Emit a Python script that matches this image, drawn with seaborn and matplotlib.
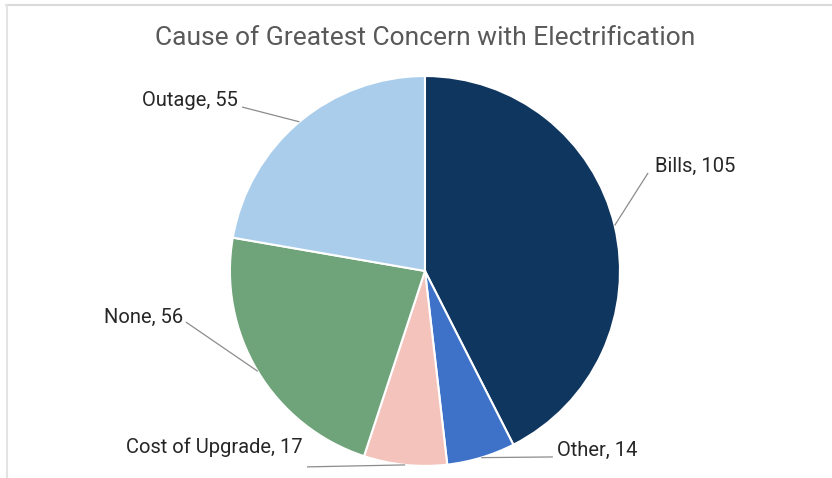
import numpy as np
import seaborn as sns
import matplotlib.pyplot as plt

# survey counts, clockwise from 12 o'clock
categories = ["Bills", "Other", "Cost of Upgrade", "None", "Outage"]
counts = [105, 14, 17, 56, 55]
colors = ["#0f365f", "#3d72c8", "#f4c4bc", "#6fa37a", "#a9cdeb"]

# where each label sits (data units, pie radius = 1) and how it is aligned
label_xy = [(1.18, 0.535), (0.677, -0.918), (-0.626, -0.903), (-1.241, -0.236), (-0.959, 0.877)]
label_ha = ["left", "left", "right", "right", "right"]
# end point of each leader line next to its label
leader_end = [(1.144, 0.503), (0.656, -0.954), (-0.605, -1.005), (-1.226, -0.262), (-0.938, 0.841)]

sns.set_theme(style="white")
plt.rcParams['font.family'] = ['Roboto', 'DejaVu Sans']

fig = plt.figure(figsize=(8.32, 4.78), dpi=100)
ax = fig.add_axes([0, 0, 1, 1])

wedges, _ = ax.pie(counts, colors=colors, startangle=90, counterclock=False,
                   radius=1.0, wedgeprops=dict(edgecolor="white", linewidth=1.5))

ax.set_xlim(-2.179, 2.087)
ax.set_ylim(-1.062, 1.390)
ax.set_aspect('auto')
ax.axis('off')

for w, cat, n, xy, ha, end in zip(wedges, categories, counts, label_xy, label_ha, leader_end):
    mid = np.deg2rad((w.theta1 + w.theta2) / 2)
    ex, ey = np.cos(mid), np.sin(mid)
    ax.plot([ex, end[0]], [ey, end[1]], color="#8c8c8c", lw=0.9, solid_capstyle="butt")
    ax.text(xy[0], xy[1], "%s, %d" % (cat, n), ha=ha, va="center",
            fontsize=14.5, color="#262626")

fig.text(0.511, 0.92, "Cause of Greatest Concern with Electrification",
         ha="center", va="center", fontsize=19, color="#595959")

# faint frame lines at top and left like the screenshot
fig.add_artist(plt.Line2D([6 / 832, 1], [1 - 5 / 478, 1 - 5 / 478], color="#d9d9d9", lw=1.5))
fig.add_artist(plt.Line2D([7 / 832, 7 / 832], [0, 1 - 5 / 478], color="#e3e3e3", lw=1.5))

fig.savefig("out.png", dpi=100)
